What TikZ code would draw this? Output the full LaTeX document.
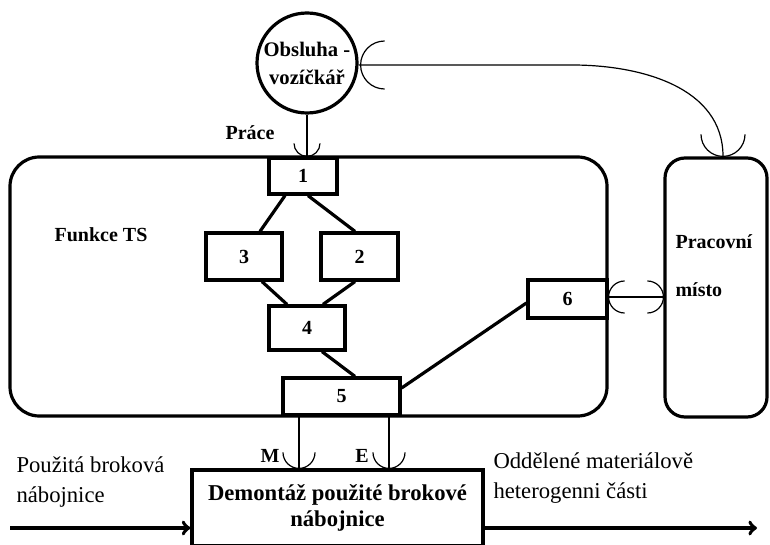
\documentclass[tikz,border=0pt]{standalone}
\usepackage{fontspec}
\setmainfont{Liberation Serif}
\usetikzlibrary{arrows,calc}

\begin{document}
\begin{tikzpicture}[x=0.75pt, y=-0.75pt, thick,
  box/.style = {draw, line width=2.4pt, inner sep=0pt, font=\fontsize{15}{18}\selectfont\bfseries},
  frame/.style = {draw, line width=2.4pt, rounded corners=22pt, inner sep=0pt},
  link/.style = {line width=2.4pt},
  wire/.style = {line width=0.9pt},
  lbl/.style = {font=\fontsize{15}{21}\selectfont\bfseries, inner sep=0pt},
  txt/.style = {font=\fontsize{17}{23}\selectfont, inner sep=0pt, align=left, anchor=west}]
\useasboundingbox (0,0) rectangle (770,545);

\node[frame, minimum width=447.75pt, minimum height=194.25pt] (ts) at (308.5,286.5) {};
\node[frame, rounded corners=15pt, minimum width=76.5pt, minimum height=194.25pt] (misto) at (716,287.5) {};
\node[circle, draw, line width=2.4pt, minimum size=75pt, inner sep=0pt, align=center, font=\fontsize{15.5}{21}\selectfont\bfseries] (obsluha) at (307,63) {Obsluha -\\vozíčkář};

\node[box, fill=white, minimum width=51pt, minimum height=27pt] (f1) at (303,176) {1};
\node[box, minimum width=57pt, minimum height=35.25pt] (f3) at (244,256.5) {3};
\node[box, minimum width=57.75pt, minimum height=35.25pt] (f2) at (359.5,256.5) {2};
\node[box, minimum width=57pt, minimum height=33pt] (f4) at (307,328) {4};
\node[box, fill=white, minimum width=87.75pt, minimum height=27.75pt] (f5) at (341.5,396.5) {5};
\node[box, fill=white, minimum width=59.25pt, minimum height=28.5pt] (f6) at (567.5,299) {6};
\node[box, align=center, minimum width=218.25pt, minimum height=57pt, font=\fontsize{17}{20}\selectfont\bfseries] (demontaz) at (337.5,508) {Demontáž použité brokové\\nábojnice};

\node[lbl] (prace) at (250,133) {Práce};
\node[lbl] (funkce) at (101,235) {Funkce TS};
\node[lbl, anchor=west] (pracovni) at (675,242) {Pracovní};
\node[lbl, anchor=west] (mistotxt) at (675,290) {místo};
\node[lbl] (mlbl) at (270,456) {M};
\node[lbl] (elbl) at (362,456) {E};
\node[txt] (vstup) at (16,482) {Použitá broková\\nábojnice};
\node[txt] (vystup) at (493,478) {Oddělené materiálově\\heterogenni části};

\draw[link] ($(f1.south)+(-18,0)$) -- ($(f3.north)+(16,0)$);
\draw[link] ($(f1.south)+(5,0)$) -- ($(f2.north)+(-4.5,0)$);
\draw[link] ($(f3.south)+(18,0)$) -- ($(f4.north)+(-20,0)$);
\draw[link] ($(f2.south)+(-4.5,0)$) -- ($(f4.north)+(16,0)$);
\draw[link] ($(f4.south)+(15,0)$) -- ($(f5.north)+(13.5,0)$);
\draw[link] ($(f5.east)+(0,-8.5)$) -- ($(f6.west)+(0,4)$);

\draw[wire] (obsluha.south) -- (obsluha |- f1.north);
\draw[wire] ($(obsluha |- f1.north)+(-13,-13)$) arc[start angle=180, end angle=360, radius=9.75pt];

\coordinate (odbocka) at (572,65);
\draw[wire] (obsluha.east |- odbocka) -- (odbocka) to[out=0, in=90] ($(misto.north)+(7,0)$);
\draw[wire] ($(obsluha.east |- odbocka)+(26,-24)$) arc[start angle=90, end angle=270, radius=18pt];
\draw[wire] ($(misto.north)+(7,0)+(-22,-22)$) arc[start angle=180, end angle=360, radius=16.5pt];

\draw[wire] ($(f6.east)+(0,-2)$) -- ($(misto.west |- f6.east)+(0,-2)$);
\draw[wire] ($(f6.east)+(16,-18)$) arc[start angle=90, end angle=270, radius=12pt];
\draw[wire] ($(misto.west |- f6.east)+(-16,-18)$) arc[start angle=90, end angle=-90, radius=12pt];

\draw[wire] ($(f5.south)+(-42.5,0)$) -- ($(demontaz.north)+(-38.5,0)$);
\draw[wire] ($(demontaz.north)+(-38.5,0)+(-16,-16)$) arc[start angle=180, end angle=360, radius=12pt];
\draw[wire] ($(f5.south)+(47.5,0)$) -- ($(demontaz.north)+(51.5,0)$);
\draw[wire] ($(demontaz.north)+(51.5,0)+(-16,-16)$) arc[start angle=180, end angle=360, radius=12pt];

\draw[->, line width=2.8pt] (10,528) -- (demontaz.west |- 0,528);
\draw[->, line width=2.8pt] (demontaz.east |- 0,528) -- (757,528);

\end{tikzpicture}
\end{document}
